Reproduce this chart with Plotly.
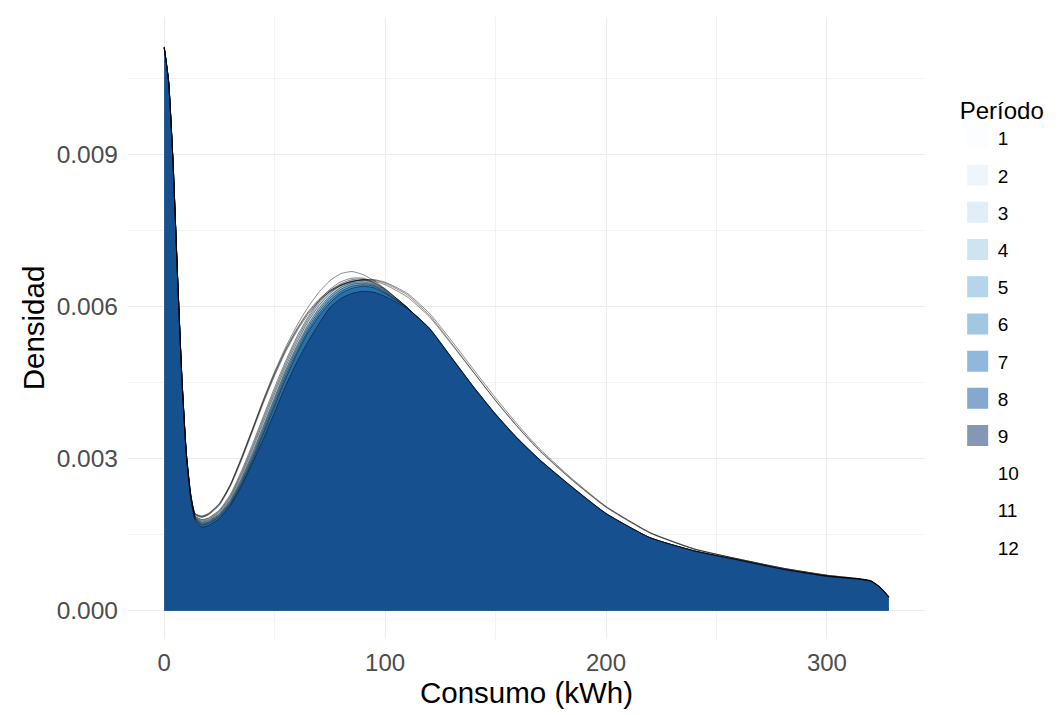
import plotly.graph_objects as go

# ---------------- data ----------------
periodos = ["1", "2", "3", "4", "5", "6", "7", "8", "9", "10", "11", "12"]

consumo = [0, 2, 4, 6, 8, 10, 12, 14, 17, 20, 25, 30, 35, 40, 45, 50,
           55, 60, 65, 70, 75, 80, 85, 90, 95, 100, 110, 120, 130, 140,
           150, 160, 170, 185, 200, 220, 240, 260, 280, 300, 315, 320, 324, 328]

d01 = [0.01112, 0.01045, 0.00885, 0.00665, 0.00460, 0.00312, 0.00230, 0.00192,
       0.00187, 0.00192, 0.00212, 0.00250, 0.00303, 0.00360, 0.00418, 0.00472,
       0.00520, 0.00562, 0.00598, 0.00628, 0.00651, 0.00665, 0.00669, 0.00663,
       0.00651, 0.00635, 0.00598, 0.00552, 0.00496, 0.00438, 0.00384, 0.00336,
       0.00295, 0.00240, 0.00190, 0.00143, 0.00117, 0.00099, 0.00081, 0.00068,
       0.00062, 0.00058, 0.00046, 0.00027]
d02 = [0.01112, 0.01044, 0.00884, 0.00664, 0.00459, 0.00311, 0.00228, 0.00187,
       0.00180, 0.00183, 0.00199, 0.00230, 0.00276, 0.00329, 0.00385, 0.00441,
       0.00493, 0.00540, 0.00579, 0.00611, 0.00634, 0.00649, 0.00656, 0.00656,
       0.00648, 0.00634, 0.00598, 0.00553, 0.00497, 0.00439, 0.00385, 0.00337,
       0.00296, 0.00241, 0.00190, 0.00143, 0.00117, 0.00099, 0.00081, 0.00068,
       0.00062, 0.00058, 0.00046, 0.00027]
d03 = [0.01111, 0.01043, 0.00884, 0.00664, 0.00459, 0.00310, 0.00227, 0.00186,
       0.00179, 0.00182, 0.00197, 0.00227, 0.00272, 0.00324, 0.00380, 0.00435,
       0.00488, 0.00535, 0.00575, 0.00607, 0.00630, 0.00645, 0.00653, 0.00654,
       0.00647, 0.00634, 0.00598, 0.00554, 0.00497, 0.00439, 0.00385, 0.00337,
       0.00296, 0.00241, 0.00191, 0.00143, 0.00117, 0.00099, 0.00081, 0.00068,
       0.00062, 0.00058, 0.00046, 0.00027]
d04 = [0.01111, 0.01043, 0.00883, 0.00663, 0.00458, 0.00309, 0.00226, 0.00185,
       0.00177, 0.00180, 0.00195, 0.00224, 0.00268, 0.00319, 0.00374, 0.00429,
       0.00482, 0.00529, 0.00570, 0.00602, 0.00626, 0.00642, 0.00650, 0.00652,
       0.00646, 0.00633, 0.00598, 0.00555, 0.00498, 0.00440, 0.00386, 0.00338,
       0.00296, 0.00241, 0.00191, 0.00143, 0.00118, 0.00099, 0.00081, 0.00068,
       0.00062, 0.00058, 0.00046, 0.00027]
d05 = [0.01111, 0.01042, 0.00882, 0.00662, 0.00457, 0.00308, 0.00225, 0.00184,
       0.00175, 0.00178, 0.00192, 0.00220, 0.00262, 0.00312, 0.00366, 0.00421,
       0.00475, 0.00522, 0.00563, 0.00596, 0.00621, 0.00638, 0.00647, 0.00649,
       0.00644, 0.00632, 0.00598, 0.00556, 0.00498, 0.00440, 0.00386, 0.00338,
       0.00297, 0.00242, 0.00191, 0.00144, 0.00118, 0.00100, 0.00082, 0.00068,
       0.00062, 0.00058, 0.00046, 0.00027]
d06 = [0.01110, 0.01042, 0.00882, 0.00662, 0.00457, 0.00307, 0.00224, 0.00183,
       0.00173, 0.00176, 0.00190, 0.00217, 0.00258, 0.00307, 0.00361, 0.00416,
       0.00470, 0.00517, 0.00558, 0.00591, 0.00617, 0.00634, 0.00644, 0.00646,
       0.00642, 0.00630, 0.00597, 0.00556, 0.00499, 0.00441, 0.00387, 0.00339,
       0.00297, 0.00242, 0.00191, 0.00144, 0.00118, 0.00100, 0.00082, 0.00068,
       0.00062, 0.00058, 0.00046, 0.00027]
d07 = [0.01110, 0.01041, 0.00881, 0.00661, 0.00456, 0.00306, 0.00223, 0.00182,
       0.00171, 0.00174, 0.00188, 0.00214, 0.00254, 0.00302, 0.00355, 0.00410,
       0.00464, 0.00511, 0.00553, 0.00586, 0.00612, 0.00630, 0.00640, 0.00643,
       0.00640, 0.00628, 0.00597, 0.00557, 0.00499, 0.00441, 0.00387, 0.00339,
       0.00297, 0.00242, 0.00192, 0.00144, 0.00118, 0.00100, 0.00082, 0.00068,
       0.00062, 0.00058, 0.00046, 0.00027]
d08 = [0.01110, 0.01041, 0.00881, 0.00661, 0.00456, 0.00306, 0.00222, 0.00181,
       0.00169, 0.00172, 0.00186, 0.00211, 0.00250, 0.00297, 0.00350, 0.00404,
       0.00458, 0.00506, 0.00548, 0.00581, 0.00607, 0.00626, 0.00636, 0.00640,
       0.00637, 0.00626, 0.00597, 0.00557, 0.00500, 0.00442, 0.00388, 0.00340,
       0.00298, 0.00243, 0.00192, 0.00144, 0.00118, 0.00100, 0.00082, 0.00068,
       0.00062, 0.00058, 0.00046, 0.00027]
d09 = [0.01110, 0.01040, 0.00880, 0.00660, 0.00455, 0.00305, 0.00220, 0.00178,
       0.00165, 0.00168, 0.00182, 0.00208, 0.00246, 0.00292, 0.00340, 0.00392,
       0.00444, 0.00490, 0.00530, 0.00566, 0.00598, 0.00616, 0.00626, 0.00630,
       0.00628, 0.00620, 0.00596, 0.00558, 0.00500, 0.00442, 0.00388, 0.00340,
       0.00298, 0.00243, 0.00192, 0.00144, 0.00118, 0.00100, 0.00082, 0.00068,
       0.00062, 0.00058, 0.00046, 0.00027]
d10 = [0.01111, 0.01044, 0.00884, 0.00664, 0.00459, 0.00311, 0.00229, 0.00190,
       0.00185, 0.00190, 0.00210, 0.00248, 0.00300, 0.00357, 0.00414, 0.00467,
       0.00514, 0.00554, 0.00587, 0.00612, 0.00630, 0.00642, 0.00649, 0.00653,
       0.00652, 0.00646, 0.00623, 0.00583, 0.00528, 0.00471, 0.00414, 0.00362,
       0.00315, 0.00256, 0.00204, 0.00153, 0.00121, 0.00102, 0.00084, 0.00070,
       0.00063, 0.00059, 0.00047, 0.00028]
d11 = [0.01111, 0.01044, 0.00884, 0.00664, 0.00459, 0.00311, 0.00229, 0.00189,
       0.00184, 0.00189, 0.00208, 0.00246, 0.00297, 0.00354, 0.00411, 0.00464,
       0.00511, 0.00551, 0.00584, 0.00610, 0.00629, 0.00641, 0.00649, 0.00653,
       0.00653, 0.00648, 0.00626, 0.00587, 0.00533, 0.00476, 0.00420, 0.00367,
       0.00319, 0.00259, 0.00206, 0.00154, 0.00122, 0.00102, 0.00084, 0.00070,
       0.00063, 0.00059, 0.00047, 0.00028]
d12 = [0.01112, 0.01044, 0.00885, 0.00665, 0.00460, 0.00311, 0.00229, 0.00191,
       0.00186, 0.00191, 0.00211, 0.00249, 0.00301, 0.00358, 0.00416, 0.00469,
       0.00516, 0.00556, 0.00589, 0.00614, 0.00632, 0.00643, 0.00650, 0.00652,
       0.00650, 0.00643, 0.00619, 0.00580, 0.00526, 0.00470, 0.00415, 0.00363,
       0.00316, 0.00257, 0.00205, 0.00154, 0.00122, 0.00102, 0.00084, 0.00070,
       0.00063, 0.00059, 0.00047, 0.00028]

x_ticks = [0, 100, 200, 300]
y_ticks = [0.000, 0.003, 0.006, 0.009]

# ColorBrewer "Blues" (9 colours; periods 10-12 get no fill, as in the original)
azules = ["#F7FBFF", "#DEEBF7", "#C6DBEF", "#9ECAE1", "#6BAED6",
          "#4292C6", "#2171B5", "#08519C", "#08306B", None, None, None]

densidades = [d01, d02, d03, d04, d05, d06, d07, d08, d09, d10, d11, d12]

ALPHA = 0.5


def rgb(h):
    h = h.lstrip("#")
    return int(h[0:2], 16), int(h[2:4], 16), int(h[4:6], 16)


def rgba(h, a):
    r, g, b = rgb(h)
    return f"rgba({r},{g},{b},{a})"


def on_white(h, a):
    r, g, b = rgb(h)
    return "rgb({},{},{})".format(*[round(c * a + 255 * (1 - a)) for c in (r, g, b)])


fig = go.Figure()

for per, dens, col in zip(periodos, densidades, azules):
    fig.add_trace(go.Scatter(
        x=consumo, y=dens, mode="lines",
        line=dict(color="black", width=0.45, shape="spline", smoothing=0.5),
        fill="tozeroy",
        fillcolor=rgba(col, ALPHA) if col else "rgba(0,0,0,0)",
        showlegend=False, hoverinfo="skip", name=per))

# legend keys
for per, col in zip(periodos, azules):
    if col:
        mk = dict(symbol="square", size=16, color=on_white(col, ALPHA),
                  line=dict(color=on_white(col, ALPHA), width=5))
    else:
        mk = dict(symbol="square", size=16, color="rgba(0,0,0,0)",
                  line=dict(color="rgba(0,0,0,0)", width=0))
    fig.add_trace(go.Scatter(x=[None], y=[None], mode="markers", marker=mk,
                             name=per, legendgroup=per, showlegend=True))

FONT = "Liberation Sans, Arial, Helvetica, sans-serif"
GRID = "#EBEBEB"
MINOR = "#F3F3F3"

fig.update_layout(
    width=1061, height=715,
    margin=dict(l=128, r=136, t=17, b=76, autoexpand=False),
    paper_bgcolor="white", plot_bgcolor="white",
    font=dict(family=FONT, color="black"),
    xaxis=dict(
        range=[-16.4, 344.4], tickmode="array", tickvals=x_ticks,
        showgrid=True, gridcolor=GRID, gridwidth=1.1, zeroline=False,
        showline=False, ticks="", ticklabelstandoff=7,
        tickfont=dict(size=24, color="#4D4D4D"),
        minor=dict(tickmode="linear", tick0=0, dtick=50, showgrid=True,
                   gridcolor=MINOR, gridwidth=0.6),
        title=dict(text="Consumo (kWh)", font=dict(size=29.5, color="black"),
                   standoff=4),
    ),
    yaxis=dict(
        range=[-0.000557, 0.01171], tickmode="array", tickvals=y_ticks,
        tickformat=".3f",
        showgrid=True, gridcolor=GRID, gridwidth=1.1, zeroline=False,
        showline=False, ticks="", ticklabelstandoff=9,
        tickfont=dict(size=24.5, color="#4D4D4D"),
        minor=dict(tickmode="linear", tick0=0, dtick=0.0015, showgrid=True,
                   gridcolor=MINOR, gridwidth=0.6),
        title=dict(text="Densidad", font=dict(size=29.5, color="black"),
                   standoff=3),
    ),
    legend=dict(
        x=1.041, xanchor="left", y=0.886, yanchor="top",
        font=dict(size=19, color="black"),
        title=dict(text="Período", font=dict(size=24, color="black")),
        tracegroupgap=9.5, bgcolor="rgba(0,0,0,0)", itemclick=False,
        itemdoubleclick=False,
    ),
)

fig.write_html("out.html", config={"displayModeBar": False},
               post_script="document.body.style.margin='0';document.body.style.overflow='hidden';")
